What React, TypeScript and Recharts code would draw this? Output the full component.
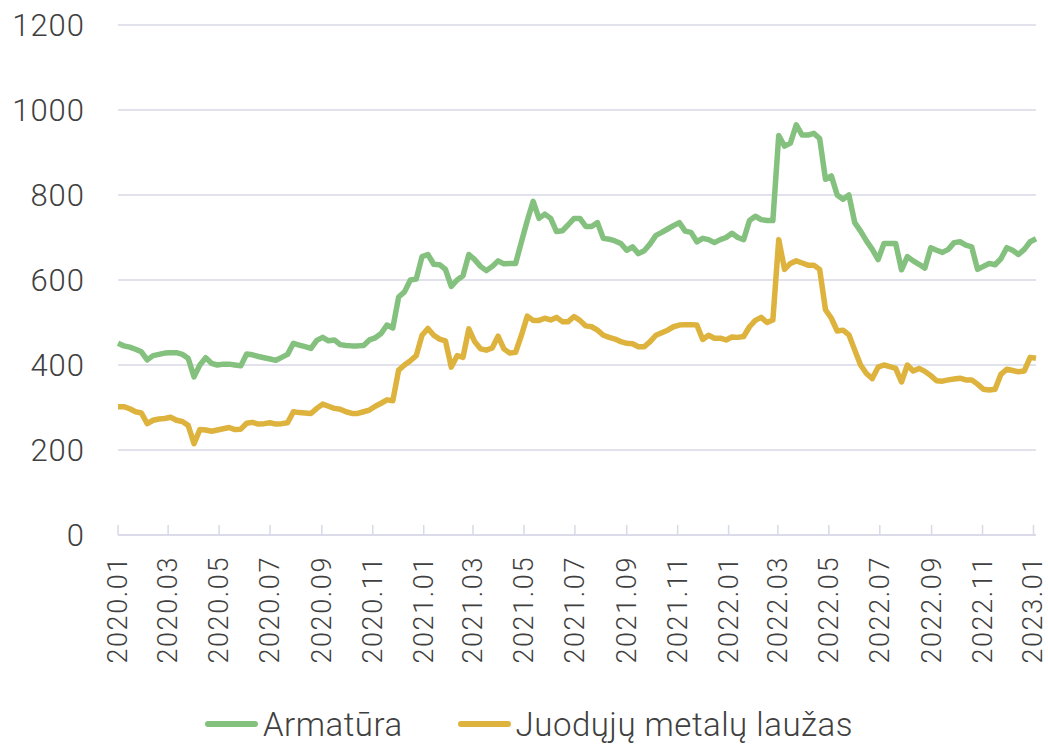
import React from 'react'
import { LineChart, Line, XAxis, YAxis, CartesianGrid, Legend } from 'recharts'

// weekly observations, first one on 2020-01-01
const START = Date.UTC(2020, 0, 1)
const DAY = 86400000

const armatura = [
  451, 445, 442, 437, 431, 412, 422, 425, 428, 429, 429, 425, 416, 372, 400, 417, 404, 400, 402, 402,
  400, 398, 426, 424, 420, 417, 414, 411, 418, 425, 451, 447, 443, 439, 458, 465, 457, 459, 448, 446,
  445, 445, 446, 459, 464, 474, 494, 487, 560, 572, 600, 602, 655, 660, 637, 636, 625, 585, 600, 610,
  660, 648, 632, 622, 632, 645, 638, 639, 639, 690, 740, 785, 745, 755, 745, 714, 716, 730, 745, 745,
  726, 726, 735, 698, 696, 692, 686, 670, 678, 662, 669, 685, 705, 712, 720, 728, 735, 715, 712, 690,
  698, 695, 688, 695, 700, 710, 700, 695, 740, 750, 742, 740, 740, 940, 915, 922, 965, 941, 941, 945,
  933, 837, 845, 800, 790, 800, 735, 715, 692, 672, 648, 686, 686, 686, 624, 655, 645, 637, 628, 676,
  670, 665, 672, 688, 690, 682, 678, 625, 632, 639, 636, 650, 676, 670, 660, 672, 690, 697,
]

const lauzas = [
  302, 302, 297, 290, 287, 262, 270, 273, 274, 277, 270, 267, 258, 215, 248, 247, 244, 247, 250, 253,
  248, 249, 263, 265, 261, 262, 264, 261, 262, 264, 290, 288, 287, 286, 298, 308, 303, 298, 296, 290,
  286, 286, 290, 294, 303, 310, 318, 316, 388, 400, 410, 422, 470, 486, 470, 461, 457, 395, 422, 418,
  485, 455, 438, 435, 440, 468, 438, 428, 430, 470, 515, 505, 505, 510, 506, 512, 502, 502, 514, 505,
  492, 490, 482, 470, 465, 461, 455, 451, 450, 443, 443, 455, 470, 476, 482, 490, 494, 495, 495, 494,
  460, 470, 463, 463, 459, 466, 465, 467, 490, 505, 512, 500, 506, 695, 625, 639, 645, 640, 635, 635,
  625, 530, 510, 480, 482, 471, 435, 400, 380, 368, 395, 400, 396, 392, 360, 400, 386, 392, 385, 375,
  363, 362, 365, 367, 369, 365, 365, 355, 343, 341, 343, 378, 390, 387, 384, 386, 418, 416,
]

const yTicks = [0, 200, 400, 600, 800, 1000, 1200]

// every second month from 2020.01 to 2023.01
const monthTicks: number[] = []
for (let k = 0; k <= 36; k += 2) {
  monthTicks.push((Date.UTC(2020, k, 1) - START) / DAY)
}

const data = armatura.map((v, i) => ({
  day: i * 7,
  armatura: v,
  lauzas: lauzas[i],
}))

const FONT = 'Roboto, "Open Sans", sans-serif'
const TEXT = '#404040'
const GRID = '#d9d9e7'

const fmtMonth = (d: number) => {
  const dt = new Date(START + d * DAY)
  const m = String(dt.getUTCMonth() + 1).padStart(2, '0')
  return `${dt.getUTCFullYear()}.${m}`
}

const DateTick = (props: any) => {
  const { x, y, payload } = props
  return (
    <g>
      <line x1={x} x2={x} y1={y} y2={y - 10} stroke={GRID} strokeWidth={1.5} />
      <text
        x={x}
        y={y + 21}
        transform={`rotate(-90 ${x} ${y + 21})`}
        textAnchor="end"
        dominantBaseline="central"
        fill={TEXT}
        fontSize={27}
        fontWeight={300}
        fontFamily={FONT}
        letterSpacing={1.6}
      >
        {fmtMonth(payload.value)}
      </text>
    </g>
  )
}

const LegendContent = (props: any) => {
  const items = props.payload || []
  return (
    <div
      style={{
        display: 'flex',
        justifyContent: 'center',
        alignItems: 'center',
        height: 50,
        paddingTop: 8,
        boxSizing: 'border-box',
        gap: 55,
        paddingLeft: 22,
        fontFamily: FONT,
        fontWeight: 300,
        fontSize: 33,
        letterSpacing: 0.5,
        color: TEXT,
      }}
    >
      {items.map((it: any) => (
        <div key={it.value} style={{ display: 'flex', alignItems: 'center' }}>
          <span
            style={{
              display: 'inline-block',
              width: 53,
              height: 6,
              borderRadius: 3,
              background: it.color,
              marginRight: 5,
            }}
          />
          <span>{it.value}</span>
        </div>
      ))}
    </div>
  )
}

export default function App() {
  return (
    <div style={{ width: 1048, height: 745, background: '#fff' }}>
      <style>{`body{margin:0}`}</style>
      <LineChart
        width={1048}
        height={745}
        data={data}
        margin={{ top: 25, right: 12, bottom: 0, left: 0 }}
      >
        <CartesianGrid vertical={false} stroke={GRID} strokeWidth={1.5} />
        <XAxis
          dataKey="day"
          type="number"
          domain={[0, 1099]}
          ticks={monthTicks}
          interval={0}
          height={160}
          tickSize={0}
          tickMargin={0}
          tickLine={false}
          axisLine={{ stroke: GRID, strokeWidth: 1.5 }}
          tick={<DateTick />}
        />
        <YAxis
          domain={[0, 1200]}
          ticks={yTicks}
          width={118}
          axisLine={false}
          tickLine={false}
          tickMargin={27}
          tick={{ fill: TEXT, fontSize: 31, fontWeight: 300, fontFamily: FONT, letterSpacing: 1 }}
        />
        <Legend verticalAlign="bottom" height={50} content={<LegendContent />} />
        <Line
          name="Armatūra"
          dataKey="armatura"
          stroke="#85c17e"
          strokeWidth={5.5}
          dot={false}
          strokeLinejoin="round"
          isAnimationActive={false}
        />
        <Line
          name="Juodųjų metalų laužas"
          dataKey="lauzas"
          stroke="#ddb23d"
          strokeWidth={5.5}
          dot={false}
          strokeLinejoin="round"
          isAnimationActive={false}
        />
      </LineChart>
    </div>
  )
}
